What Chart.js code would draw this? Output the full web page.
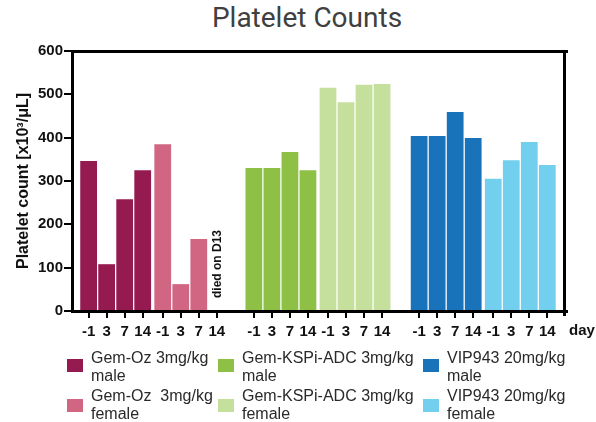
<!DOCTYPE html>
<html>
<head>
<meta charset="utf-8">
<script src="https://cdn.jsdelivr.net/npm/chart.js@4.4.1/dist/chart.umd.min.js"></script>
<style>
  html, body { margin: 0; padding: 0; background: #fff; }
  #wrap { position: relative; width: 596px; height: 422px; overflow: hidden;
          font-family: "Liberation Sans", Arial, sans-serif; }
  #chart { position: absolute; left: 0; top: 0; }
  #title { position: absolute; left: 157px; top: 4px; width: 300px; text-align: center;
           font-family: Roboto, "Liberation Sans", sans-serif; font-size: 28px; line-height: 28px;
           color: #404040; }
  .lg-box { position: absolute; width: 16px; height: 13px; }
  .lg-txt { position: absolute; white-space: pre; font-size: 16px; line-height: 18px; color: #2a2a2a; }
</style>
</head>
<body>
<div id="wrap">
  <div id="title">Platelet Counts</div>
  <canvas id="chart" width="596" height="422"></canvas>
  <div id="legend"></div>
</div>
<script>
// Sampling days (x tick labels) and platelet counts [x10^3/µL]
const days = ['-1', '3', '7', '14'];
const gemOzMale   = [346, 108, 258, 325];
const gemOzFemale = [385, 62, 166, null];   // animal died on day 13
const kspiMale    = [330, 330, 367, 325];
const kspiFemale  = [515, 482, 522, 524];
const vipMale     = [404, 404, 459, 399];
const vipFemale   = [305, 348, 390, 337];

const seriesNames = [
  'Gem-Oz 3mg/kg\nmale',
  'Gem-Oz  3mg/kg\nfemale',
  'Gem-KSPi-ADC 3mg/kg\nmale',
  'Gem-KSPi-ADC 3mg/kg\nfemale',
  'VIP943 20mg/kg\nmale',
  'VIP943 20mg/kg\nfemale'
];
const seriesValues = [gemOzMale, gemOzFemale, kspiMale, kspiFemale, vipMale, vipFemale];
const seriesColors = ['#951A50', '#D16683', '#8FC046', '#C5E09D', '#1873BB', '#72D0EE'];
const deathNote = 'died on D13';
const axisUnit = 'day';

// Layout of the x axis (in units of one bar slot)
const GROUP_STEP = 9.167;   // distance between treatment groups
const SEX_STEP = 4.111;     // distance between male and female blocks
const slot = (group, sex, day) => group * GROUP_STEP + sex * SEX_STEP + day;

const datasets = seriesValues.map((vals, i) => {
  const group = Math.floor(i / 2), sex = i % 2;
  return {
    label: seriesNames[i],
    data: vals.map((v, d) => ({ x: slot(group, sex, d), y: v })),
    backgroundColor: seriesColors[i],
    borderWidth: 0,
    grouped: false,
    categoryPercentage: 1,
    barPercentage: 0.93
  };
});
const tickPositions = datasets.flatMap(ds => ds.data.map(p => p.x)).sort((a, b) => a - b);

const bold15 = { family: '"Liberation Sans", Arial, sans-serif', size: 15, weight: 'bold' };

// Axis lines, frame, unit label and the death note
const framePlugin = {
  id: 'frame',
  afterDraw(chart) {
    const { ctx, chartArea: a, scales } = chart;
    const L = Math.round(a.left), R = Math.round(a.right);
    const T = Math.round(a.top), B = Math.round(a.bottom);
    ctx.save();
    ctx.fillStyle = '#000';
    ctx.fillRect(L - 1, T - 1, R - L + 5, 3);   // top
    ctx.fillRect(L - 1, B - 1, R - L + 5, 3);   // bottom axis
    ctx.fillRect(L - 1, T - 1, 3, B - T + 3);   // left axis
    ctx.fillRect(R - 1, T - 1, 3, B - T + 6);   // right

    ctx.fillStyle = '#111';
    ctx.font = 'bold 15px "Liberation Sans", Arial, sans-serif';
    ctx.textAlign = 'left';
    ctx.textBaseline = 'middle';
    ctx.fillText(axisUnit, R + 5, B + 20);

    const px = scales.x.getPixelForValue(slot(0, 1, 3));
    ctx.translate(px + 1, B - 13);
    ctx.rotate(-Math.PI / 2);
    ctx.font = 'bold 12px "Liberation Sans", Arial, sans-serif';
    ctx.fillText(deathNote, 0, 0);
    ctx.restore();
  }
};

const chart = new Chart(document.getElementById('chart'), {
  type: 'bar',
  data: { datasets },
  plugins: [framePlugin],
  options: {
    responsive: false,
    animation: false,
    layout: { padding: { top: 51, right: 32, bottom: 81, left: 0 } },
    plugins: { legend: { display: false }, title: { display: false }, tooltip: { enabled: false } },
    scales: {
      x: {
        type: 'linear',
        offset: false,
        min: -0.922,
        max: 26.37,
        afterBuildTicks: s => { s.ticks = tickPositions.map(v => ({ value: v })); },
        afterFit: s => { s.height = 30; },
        ticks: {
          callback: (v, i) => days[i % days.length],
          autoSkip: false, maxRotation: 0, padding: 5,
          color: '#111', font: bold15
        },
        grid: { offset: false, drawOnChartArea: false, drawTicks: true, tickLength: 7, lineWidth: 2, color: '#000' },
        border: { display: false }
      },
      y: {
        min: 0,
        max: 600,
        afterFit: s => { s.width = 72; },
        ticks: { stepSize: 100, padding: 1, color: '#111', font: bold15 },
        grid: { drawOnChartArea: false, drawTicks: true, tickLength: 8, lineWidth: 2, color: '#000' },
        border: { display: false },
        title: {
          display: true,
          text: 'Platelet count [x10³/μL]',
          color: '#111',
          padding: { top: 14, bottom: 0 },
          font: { family: '"Liberation Sans", Arial, sans-serif', size: 16, weight: 'bold' }
        }
      }
    }
  }
});

// Legend: three columns (treatment) by two rows (sex)
const legendCols = [67, 218, 423];
const legendRows = [{ box: 359, text: 349 }, { box: 399, text: 387 }];
const legend = document.getElementById('legend');
chart.data.datasets.forEach((ds, i) => {
  const col = legendCols[Math.floor(i / 2)];
  const row = legendRows[i % 2];
  const box = document.createElement('div');
  box.className = 'lg-box';
  box.style.left = col + 'px';
  box.style.top = row.box + 'px';
  box.style.background = ds.backgroundColor;
  const txt = document.createElement('div');
  txt.className = 'lg-txt';
  txt.style.left = (col + 24) + 'px';
  txt.style.top = row.text + 'px';
  txt.textContent = ds.label;
  legend.appendChild(box);
  legend.appendChild(txt);
});
</script>
</body>
</html>
